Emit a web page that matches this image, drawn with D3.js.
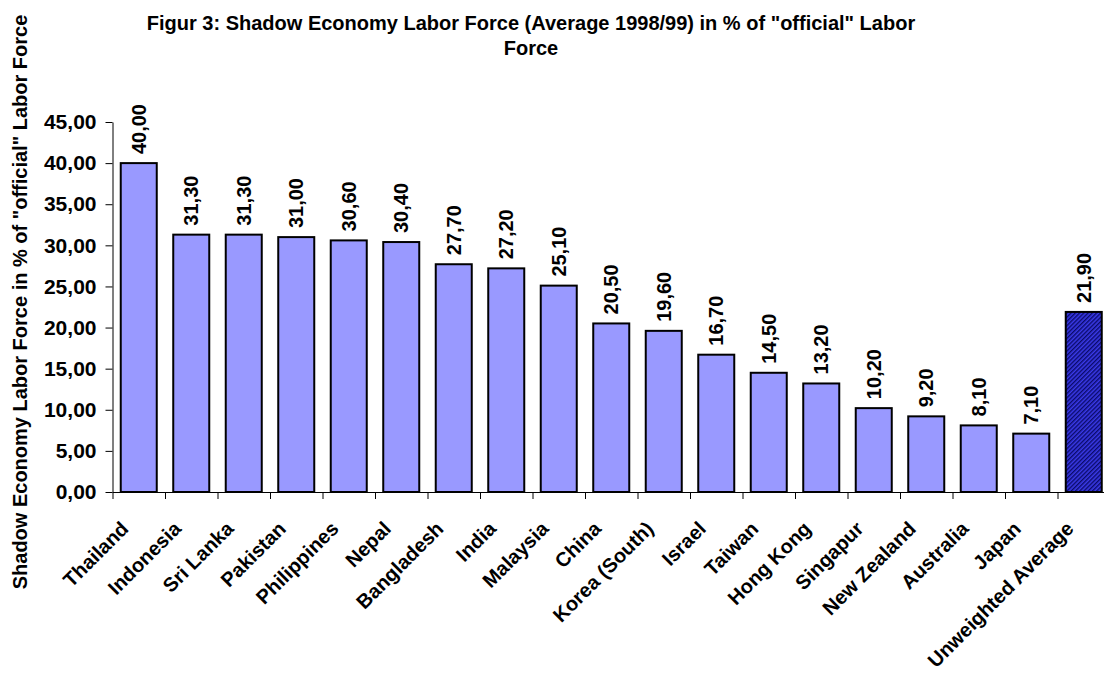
<!DOCTYPE html>
<html>
<head>
<meta charset="utf-8">
<script src="https://cdn.jsdelivr.net/npm/d3@7/dist/d3.min.js"></script>
<style>
  html, body { margin: 0; padding: 0; background: #fff; }
  svg { display: block; font-family: "Liberation Sans", Arial, sans-serif; }
</style>
</head>
<body>
<svg id="chart" width="1104" height="676"></svg>
<script>
const categories = ["Thailand", "Indonesia", "Sri Lanka", "Pakistan", "Philippines", "Nepal",
  "Bangladesh", "India", "Malaysia", "China", "Korea (South)", "Israel", "Taiwan",
  "Hong Kong", "Singapur", "New Zealand", "Australia", "Japan", "Unweighted Average"];
const values = [40.0, 31.3, 31.3, 31.0, 30.6, 30.4, 27.7, 27.2, 25.1, 20.5, 19.6, 16.7,
  14.5, 13.2, 10.2, 9.2, 8.1, 7.1, 21.9];
const yTicks = [0, 5, 10, 15, 20, 25, 30, 35, 40, 45];
const titleLines = ["Figur 3: Shadow Economy Labor Force (Average 1998/99) in % of \"official\" Labor", "Force"];
const yTitle = "Shadow Economy Labor Force in % of \"official\" Labor Force";
const highlighted = ["Unweighted Average"];

const svg = d3.select("#chart");
const plotLeft = 112.5, plotRight = 1110, plotTop = 122, plotBottom = 492;

const locale = d3.formatLocale({decimal: ",", thousands: ".", grouping: [3], currency: ["", ""]});
const fmt = locale.format(".2f");

const defs = svg.append("defs");
const pat = defs.append("pattern")
  .attr("id", "hatch").attr("patternUnits", "userSpaceOnUse")
  .attr("width", 3).attr("height", 3)
  .attr("patternTransform", "rotate(45)");
pat.append("rect").attr("width", 3).attr("height", 3).attr("fill", "#3a3ae8");
pat.append("line").attr("x1", 0.7).attr("y1", 0).attr("x2", 0.7).attr("y2", 3)
  .attr("stroke", "#0a0a6a").attr("stroke-width", 1.4);

const x = d3.scaleBand().domain(categories).range([plotLeft, plotRight])
  .paddingInner(0.314).paddingOuter(0.157);
const xEdge = d3.scaleLinear().domain([0, categories.length]).range([plotLeft, plotRight]);
const y = d3.scaleLinear().domain([0, 45]).range([plotBottom, plotTop]);

// Title
svg.append("g").selectAll("text").data(titleLines).join("text")
  .attr("x", 531).attr("y", (d, i) => 30 + i * 25)
  .attr("text-anchor", "middle").attr("font-size", 20).attr("font-weight", "bold")
  .text(d => d);

// Y title
svg.append("text")
  .attr("transform", "translate(27,302) rotate(-90)")
  .attr("text-anchor", "middle").attr("font-size", 20).attr("font-weight", "bold")
  .text(yTitle);

// Bars
svg.append("g").selectAll("rect").data(categories).join("rect")
  .attr("x", d => x(d))
  .attr("y", (d, i) => y(values[i]))
  .attr("width", x.bandwidth())
  .attr("height", (d, i) => y(0) - y(values[i]))
  .attr("fill", d => highlighted.includes(d) ? "url(#hatch)" : "#9999ff")
  .attr("stroke", "#000").attr("stroke-width", 2);

// Value labels
svg.append("g").selectAll("text").data(categories).join("text")
  .attr("transform", (d, i) => `translate(${x(d) + x.bandwidth() / 2 + 7},${y(values[i]) - 9}) rotate(-90)`)
  .attr("text-anchor", "start").attr("font-size", 20).attr("font-weight", "bold")
  .text((d, i) => fmt(values[i]));

// Y axis
const yAxis = svg.append("g").attr("transform", `translate(${plotLeft},0)`)
  .call(d3.axisLeft(y).tickValues(yTicks).tickFormat(fmt).tickSize(7).tickPadding(9).tickSizeOuter(0));
yAxis.selectAll("text").attr("font-size", 21).attr("font-weight", "bold").attr("fill", "#000")
  .attr("font-family", "Liberation Sans, Arial, sans-serif");
yAxis.selectAll("line,path").attr("stroke", "#000");

// X axis with ticks between categories
const xAxis = svg.append("g").attr("transform", `translate(0,${plotBottom})`)
  .call(d3.axisBottom(xEdge).tickValues(d3.range(categories.length + 1)).tickFormat("").tickSize(7).tickSizeOuter(0));
xAxis.selectAll("line,path").attr("stroke", "#000");

// Category labels
svg.append("g").selectAll("text").data(categories).join("text")
  .attr("transform", d => `translate(${x(d) + x.bandwidth() / 2 - 9},${plotBottom + 38}) rotate(-45)`)
  .attr("text-anchor", "end").attr("font-size", 20).attr("font-weight", "bold")
  .text(d => d);
</script>
</body>
</html>
